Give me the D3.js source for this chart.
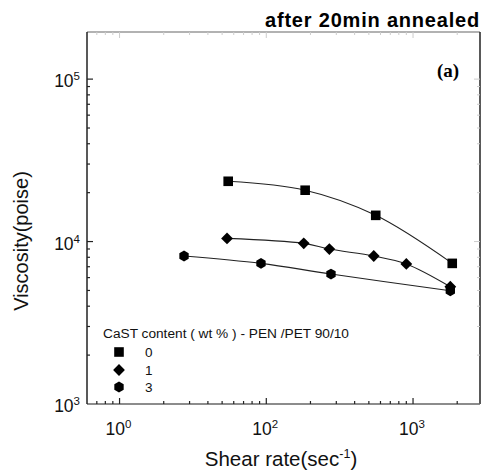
<!DOCTYPE html>
<html><head><meta charset="utf-8">
<script src="https://cdn.jsdelivr.net/npm/d3@7"></script>
<style>body{margin:0;background:#fff}svg{display:block}</style>
</head><body>
<svg id="c" width="483" height="474"></svg>
<script>
// ---- data ----
const seriesNames = ["0", "1", "3"];
const shearRate0 = [55, 184, 557, 1850];
const visc0 = [23500, 20700, 14500, 7340];
const shearRate1 = [54, 180, 269, 540, 900, 1795];
const visc1 = [10460, 9750, 8990, 8150, 7280, 5270];
const shearRate3 = [27.5, 92, 276, 1795];
const visc3 = [8150, 7340, 6310, 4980];
const xTickValues = [10, 100, 1000];
const xTickBase = ["10", "10", "10"];
const xTickExp = ["0", "2", "3"];
const yTickValues = [1000, 10000, 100000];
const yTickExp = ["3", "4", "5"];
const titleText = "after 20min annealed";
const panelLabel = "(a)";
const legendTitle = "CaST content ( wt % ) - PEN /PET 90/10";

// ---- layout ----
const svg = d3.select("#c");
const L = 87, R = 480, T = 32, B = 404;
const x = d3.scaleLog().domain([6, 2860]).range([L, R]);
const y = d3.scaleLog().domain([1000, 195000]).range([B, T]);
const font = "'Liberation Sans', Arial, sans-serif";

// frame
svg.append("line").attr("x1", L).attr("x2", R).attr("y1", T).attr("y2", T).attr("stroke", "#999").attr("stroke-width", 1.5);
svg.append("line").attr("x1", R).attr("x2", R).attr("y1", T).attr("y2", B).attr("stroke", "#222").attr("stroke-width", 1.5);
svg.append("line").attr("x1", L).attr("x2", R).attr("y1", B).attr("y2", B).attr("stroke", "#666").attr("stroke-width", 1.5);
svg.append("line").attr("x1", L).attr("x2", L).attr("y1", T).attr("y2", B).attr("stroke", "#222").attr("stroke-width", 1.5);

// ticks (inward)
const xt = x.ticks().filter(v => v > x.domain()[0] && v < x.domain()[1]);
const isMajor = v => Math.abs(Math.log10(v) - Math.round(Math.log10(v))) < 1e-6;
xt.forEach(v => {
  const len = isMajor(v) ? 6 : 3;
  svg.append("line").attr("x1", x(v)).attr("x2", x(v)).attr("y1", B).attr("y2", B - len).attr("stroke", "#222").attr("stroke-width", 1.2);
  svg.append("line").attr("x1", x(v)).attr("x2", x(v)).attr("y1", T).attr("y2", T + len).attr("stroke", "#ccc").attr("stroke-width", 1);
});
const yt = y.ticks().filter(v => v > y.domain()[0] && v < y.domain()[1]);
yt.forEach(v => {
  const len = isMajor(v) ? 6 : 3;
  svg.append("line").attr("x1", L).attr("x2", L + len).attr("y1", y(v)).attr("y2", y(v)).attr("stroke", "#222").attr("stroke-width", 1.2);
  svg.append("line").attr("x1", R).attr("x2", R - len).attr("y1", y(v)).attr("y2", y(v)).attr("stroke", "#ccc").attr("stroke-width", 1);
});

// tick labels
xTickValues.forEach((v, i) => {
  const t = svg.append("text").attr("x", x(v) - 1).attr("y", B + 31).attr("text-anchor", "middle")
    .attr("font-family", font).attr("font-size", 17.5).attr("fill", "#111");
  t.append("tspan").text(xTickBase[i]);
  t.append("tspan").attr("dy", -7).attr("font-size", 11.5).text(xTickExp[i]);
});
yTickValues.forEach((v, i) => {
  const t = svg.append("text").attr("x", 80).attr("y", y(v) + 8).attr("text-anchor", "end")
    .attr("font-family", font).attr("font-size", 17.5).attr("fill", "#111");
  t.append("tspan").text("10");
  t.append("tspan").attr("dy", -7).attr("font-size", 11.5).text(yTickExp[i]);
});

// axis titles
const xt2 = svg.append("text").attr("x", 281).attr("y", 466).attr("text-anchor", "middle")
  .attr("font-family", font).attr("font-size", 20.5).attr("fill", "#111");
xt2.append("tspan").text("Shear rate(sec");
xt2.append("tspan").attr("dy", -8).attr("font-size", 12.5).text("-1");
xt2.append("tspan").attr("dy", 8).text(")");
svg.append("text").attr("transform", "translate(28,241) rotate(-90)").attr("text-anchor", "middle")
  .attr("font-family", font).attr("font-size", 20).attr("fill", "#111").text("Viscosity(poise)");

// title & panel label
svg.append("text").attr("x", 480).attr("y", 27).attr("text-anchor", "end")
  .attr("font-family", font).attr("font-weight", "bold").attr("font-size", 20).attr("letter-spacing", 0.8)
  .attr("fill", "#000").text(titleText);
svg.append("text").attr("x", 437).attr("y", 77).attr("font-family", "'Liberation Serif', 'Times New Roman', serif")
  .attr("font-weight", "bold").attr("font-size", 19).attr("fill", "#000").text(panelLabel);

// markers
function markerPath(kind, cx, cy) {
  if (kind === 0) { const s = 4.8; return `M${cx - s},${cy - s}H${cx + s}V${cy + s}H${cx - s}Z`; }
  if (kind === 1) { const s = 5.9; return `M${cx},${cy - s}L${cx + s},${cy}L${cx},${cy + s}L${cx - s},${cy}Z`; }
  const r = 5.4; let p = "";
  for (let k = 0; k < 6; k++) { const a = Math.PI / 2 + k * Math.PI / 3; p += (k ? "L" : "M") + (cx + r * Math.cos(a)) + "," + (cy + r * Math.sin(a)); }
  return p + "Z";
}

const series = [
  { xs: shearRate0, ys: visc0 },
  { xs: shearRate1, ys: visc1 },
  { xs: shearRate3, ys: visc3 }
];
const line = d3.line().x(d => x(d[0])).y(d => y(d[1])).curve(d3.curveCatmullRom.alpha(0.5));
series.forEach((s, k) => {
  const pts = s.xs.map((v, i) => [v, s.ys[i]]);
  svg.append("path").attr("d", line(pts)).attr("fill", "none").attr("stroke", "#222").attr("stroke-width", 1.1);
});
series.forEach((s, k) => {
  s.xs.forEach((v, i) => {
    svg.append("path").attr("d", markerPath(k, x(v), y(s.ys[i]))).attr("fill", "#000");
  });
});

// legend
svg.append("text").attr("x", 103).attr("y", 338).attr("font-family", font).attr("font-size", 13.7).attr("fill", "#111").text(legendTitle);
const legY = [352, 370, 387];
seriesNames.forEach((n, k) => {
  svg.append("path").attr("d", markerPath(k, 119, legY[k])).attr("fill", "#000");
  svg.append("text").attr("x", 145).attr("y", legY[k] + 5).attr("font-family", font).attr("font-size", 13.5).attr("fill", "#111").text(n);
});
</script>
</body></html>
